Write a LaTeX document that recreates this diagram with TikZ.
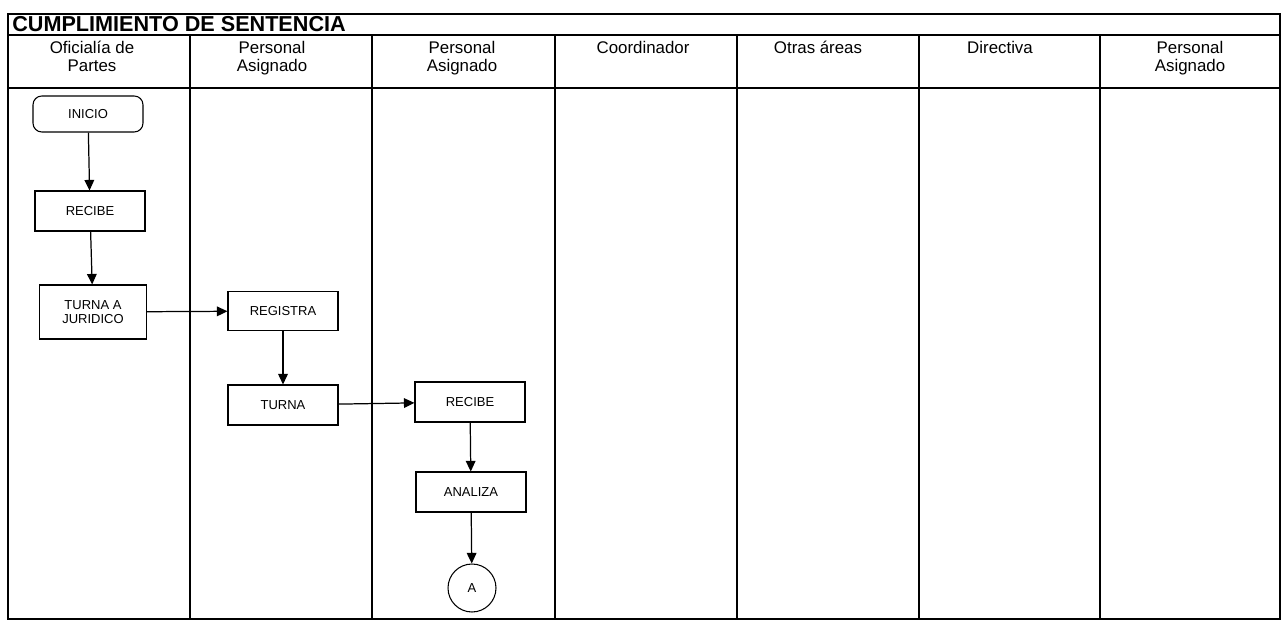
\documentclass[tikz,border=0pt]{standalone}
\usepackage{fontspec}
\setmainfont{Liberation Sans}
\usetikzlibrary{arrows.meta,positioning}

\begin{document}
\begin{tikzpicture}[
    x=0.02cm, y=-0.02cm,
    box/.style={rectangle, draw, line width=0.6pt, minimum width=2.2cm, minimum height=0.8cm, font=\fontsize{7.4}{8.4}\selectfont, align=center, inner sep=1pt},
    lane/.style={font=\fontsize{9.6}{10.2}\selectfont, align=center, anchor=north, inner sep=1pt},
    flow/.style={-{Triangle[length=6pt,width=5.5pt]}, line width=0.7pt}
]
\useasboundingbox (0,0) rectangle (1283,621);
% frame and lanes
\draw[line width=0.8pt] (8,14) rectangle (1280,619);
\draw[line width=0.8pt] (8,35) -- (1280,35);
\draw[line width=0.8pt] (8,88) -- (1280,88);
\foreach \x in {190,372,555,737,919,1100}
    \draw[line width=0.8pt] (\x,35) -- (\x,619);
\node[anchor=base west, inner sep=0pt, font=\bfseries\fontsize{12.3}{14}\selectfont] (title) at (12,32) {CUMPLIMIENTO DE SENTENCIA};

\node[lane] (oficialia) at (92,39) {Oficialía de\\Partes};
\node[lane] (personal1) at (272,39) {Personal\\Asignado};
\node[lane] (personal2) at (462,39) {Personal\\Asignado};
\node[lane] (coord) at (643,39) {Coordinador};
\node[lane] (otras) at (818,39) {Otras áreas};
\node[lane] (directiva) at (1000,39) {Directiva};
\node[lane] (personal3) at (1190,39) {Personal\\Asignado};

% steps
\node[box, rounded corners=5pt, minimum height=0.72cm] (inicio) at (88,114) {INICIO};
\node[box] (recibe) at (90,211) {RECIBE};
\node[box, minimum width=2.14cm, minimum height=1.08cm] (turnajur) at (93,312) {TURNA A\\JURIDICO};
\node[box, minimum height=0.78cm] (registra) at (283,311) {REGISTRA};
\node[box] (turna) at (283,405) {TURNA};
\node[box] (recibedos) at (470,402) {RECIBE};
\node[box] (analiza) at (471,492) {ANALIZA};
\node[circle, draw, line width=0.6pt, minimum size=0.96cm, font=\fontsize{7.4}{8.4}\selectfont] (conA) at (472,588) {A};

\draw[flow] (inicio) -- (recibe);
\draw[flow] (recibe) -- (turnajur);
\draw[flow] (turnajur) -- (registra);
\draw[flow] (registra) -- (turna);
\draw[flow] (turna) -- (recibedos);
\draw[flow] (recibedos) -- (analiza);
\draw[flow] (analiza) -- (conA);
\end{tikzpicture}
\end{document}
